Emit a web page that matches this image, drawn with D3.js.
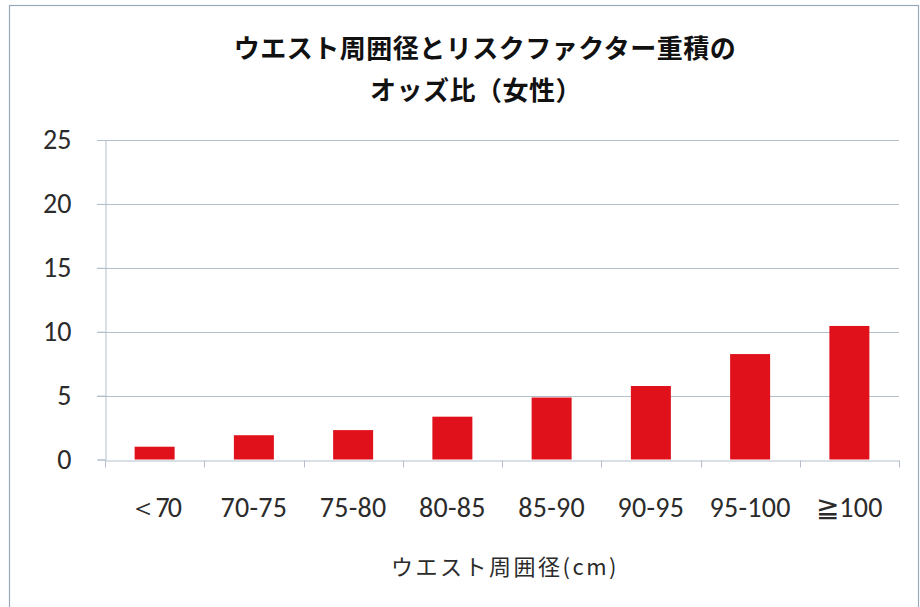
<!DOCTYPE html>
<html>
<head>
<meta charset="utf-8">
<script src="https://cdn.jsdelivr.net/npm/d3@7/dist/d3.min.js"></script>
<style>
  html, body { margin: 0; padding: 0; background: #fff; }
  svg { display: block; }
</style>
</head>
<body>
<svg id="chart" width="920" height="607"></svg>
<script>
// Waist circumference bands (cm) and the odds ratio of accumulated risk factors (women)
const categories = ["\uFF1C70", "70-75", "75-80", "80-85", "85-90", "90-95", "95-100", "\u2267100"];
const oddsRatio = [1.0, 1.9, 2.3, 3.35, 4.85, 5.75, 8.25, 10.45];
const yTicks = [0, 5, 10, 15, 20, 25];
const titleLines = ["ウエスト周囲径とリスクファクター重積の", "オッズ比（女性）"];
const xAxisTitle = "ウエスト周囲径(cm)";

const svg = d3.select("#chart");
const W = 920, H = 607;
const plot = { left: 105, right: 899, top: 140, bottom: 459.5 };

const labelFont = "Carlito, 'Open Sans', 'Liberation Sans', sans-serif";
const cjkFont = "'Noto Sans CJK JP', 'Noto Sans CJK SC', sans-serif";

// outer chart frame
svg.append("rect")
  .attr("x", 9.5).attr("y", 5.5)
  .attr("width", W - 11).attr("height", H)
  .attr("fill", "#fff")
  .attr("stroke", "#9aa9ba").attr("stroke-width", 1.2);

const x = d3.scaleBand()
  .domain(categories)
  .range([plot.left, plot.right])
  .paddingInner(0.597)
  .paddingOuter(0.2985);

const y = d3.scaleLinear()
  .domain([0, 25])
  .range([plot.bottom, plot.top]);

// horizontal gridlines
svg.append("g")
  .selectAll("line")
  .data(yTicks.filter(d => d > 0))
  .join("line")
  .attr("x1", plot.left - 8).attr("x2", plot.right)
  .attr("y1", d => Math.round(y(d)) + 0.5).attr("y2", d => Math.round(y(d)) + 0.5)
  .attr("stroke", "#b3bfcc").attr("stroke-width", 1);

// y axis
const yAxis = svg.append("g")
  .attr("transform", `translate(${plot.left + 0.5},0)`)
  .call(d3.axisLeft(y).tickValues(yTicks).tickSize(8).tickPadding(26));
yAxis.select(".domain").attr("stroke", "#b3bfcc");
yAxis.selectAll(".tick line").attr("stroke", "#b3bfcc");
yAxis.selectAll(".tick text")
  .attr("font-family", labelFont)
  .attr("font-size", 28)
  .attr("fill", "#2b2b2b");

// bars
svg.append("g")
  .selectAll("rect")
  .data(categories.map((c, i) => ({ c, v: oddsRatio[i] })))
  .join("rect")
  .attr("x", d => x(d.c))
  .attr("width", x.bandwidth())
  .attr("y", d => y(d.v))
  .attr("height", d => y(0) - y(d.v))
  .attr("fill", "#e1111b");

// x axis: baseline, category labels, and tick marks at band boundaries
const xAxis = svg.append("g")
  .attr("transform", `translate(0,${Math.round(plot.bottom) + 0.5})`)
  .call(d3.axisBottom(x).tickSize(0).tickPadding(37));
xAxis.select(".domain").attr("stroke", "#b3bfcc");
xAxis.selectAll(".tick text")
  .attr("font-family", labelFont)
  .attr("font-size", 28)
  .attr("letter-spacing", d => d === categories[0] ? -2 : 0.3)
  .attr("fill", "#2b2b2b");

const gap = x.step() - x.bandwidth();
const boundaries = categories.map(c => x(c) - gap / 2).concat([plot.right]);
xAxis.append("g")
  .selectAll("line")
  .data(boundaries)
  .join("line")
  .attr("x1", d => Math.round(d) + 0.5).attr("x2", d => Math.round(d) + 0.5)
  .attr("y1", 0).attr("y2", 7)
  .attr("stroke", "#b3bfcc");

// axis title
svg.append("text")
  .attr("x", 505)
  .attr("y", 575)
  .attr("text-anchor", "middle")
  .attr("font-family", cjkFont)
  .attr("font-size", 22)
  .attr("letter-spacing", 2.5)
  .attr("fill", "#2b2b2b")
  .text(xAxisTitle);

// chart title
svg.append("g")
  .selectAll("text")
  .data(titleLines)
  .join("text")
  .attr("x", (d, i) => i === 0 ? 485 : 476)
  .attr("y", (d, i) => 58 + i * 42)
  .attr("text-anchor", "middle")
  .attr("font-family", cjkFont)
  .attr("font-weight", 700)
  .attr("font-size", 26)
  .attr("letter-spacing", 0.5)
  .attr("fill", "#111")
  .text(d => d);
</script>
</body>
</html>
